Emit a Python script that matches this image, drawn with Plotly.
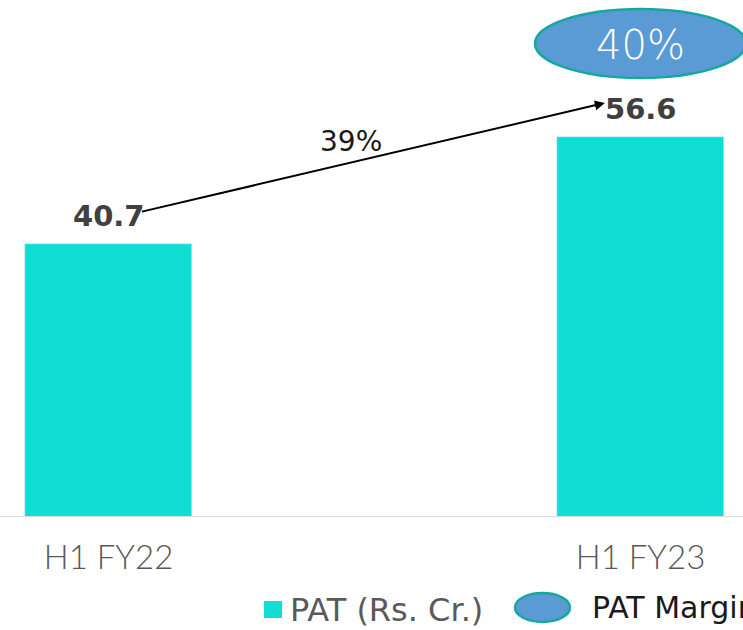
import plotly.graph_objects as go

categories = ["H1 FY22", "H1 FY23"]
pat_values = [40.7, 56.6]
pat_labels = ["40.7", "56.6"]
growth_label = "39%"
margin_label = "40%"
series_name = "PAT (Rs. Cr.)"
margin_name = "PAT Margin"

TEAL = "#10DDD3"
BLUE = "#5B9BD5"
BORDER = "#14A89E"
PX = 6.71  # pixels per unit
TXT = "DejaVu Sans"

fig = go.Figure()
fig.add_trace(go.Bar(
    x=[0, 1], y=pat_values, width=0.314, marker_color=TEAL,
    name=series_name, showlegend=False, hoverinfo="skip",
))

# value labels
for i, (v, lab) in enumerate(zip(pat_values, pat_labels)):
    fig.add_annotation(x=i, y=v, xref="x", yref="y", text=lab, showarrow=False,
                       yanchor="middle", yshift=28,
                       font=dict(family=TXT, size=29, color="#404040", weight="bold"))

# growth arrow
fig.add_annotation(
    x=0.933, y=(517-103)/PX, xref="x", yref="y",
    ax=0.06, ay=(517-212)/PX, axref="x", ayref="y",
    showarrow=True, arrowhead=2, arrowsize=1.0, arrowwidth=2, arrowcolor="#000000",
    text="",
)
fig.add_annotation(
    x=0.455, y=(517-141)/PX, xref="x", yref="y", text=growth_label, showarrow=False,
    xanchor="center", yanchor="middle",
    font=dict(family=TXT, size=28, color="#1a1a1a"),
)

# margin ellipse
fig.add_shape(type="circle", xref="paper", yref="paper",
              x0=535/743, x1=746/743, y0=(517-78)/517, y1=(517-9)/517,
              fillcolor=BLUE, line=dict(color=BORDER, width=2.5))
fig.add_annotation(x=640/743, y=(517-45)/517, xref="paper", yref="paper",
                   text=margin_label, showarrow=False, xanchor="center", yanchor="middle",
                   font=dict(family=TXT, size=40, color="white", weight=200))

# legend
fig.add_shape(type="rect", xref="paper", yref="paper",
              x0=264/743, x1=282/743, y0=(517-618)/517, y1=(517-601)/517,
              fillcolor=TEAL, line=dict(width=0))
fig.add_annotation(x=288/743, y=(517-610)/517, xref="paper", yref="paper",
                   text=series_name, showarrow=False, xanchor="left", yanchor="middle",
                   font=dict(family=TXT, size=32, color="#595959"))
fig.add_shape(type="circle", xref="paper", yref="paper",
              x0=515/743, x1=570/743, y0=(517-622)/517, y1=(517-593)/517,
              fillcolor=BLUE, line=dict(color=BORDER, width=2.5))
fig.add_annotation(x=590/743, y=(517-607)/517, xref="paper", yref="paper",
                   text=margin_name, showarrow=False, xanchor="left", yanchor="middle",
                   font=dict(family=TXT, size=30, color="#1a1a1a"))

fig.update_layout(
    width=743, height=630,
    margin=dict(l=0, r=0, t=0, b=113),
    plot_bgcolor="white", paper_bgcolor="white",
    xaxis=dict(range=[-108.5/532, (743-108.5)/532], tickvals=[0, 1], ticktext=categories,
               showgrid=False, zeroline=False, showline=False,
               tickfont=dict(family="Lato", size=33, color="#595959", weight=300),
               ticks="", ticklen=0, ticklabelstandoff=18),
    yaxis=dict(range=[0, 517/PX], visible=False, showgrid=False, zeroline=False),
    bargap=0,
)
fig.add_shape(type="line", xref="paper", yref="y", x0=0, x1=1, y0=0, y1=0,
              line=dict(color="#d9d9d9", width=2))

fig.write_html("out.html", config={"displayModeBar": False},
               post_script="document.body.style.margin='0';document.body.style.overflow='hidden';")
